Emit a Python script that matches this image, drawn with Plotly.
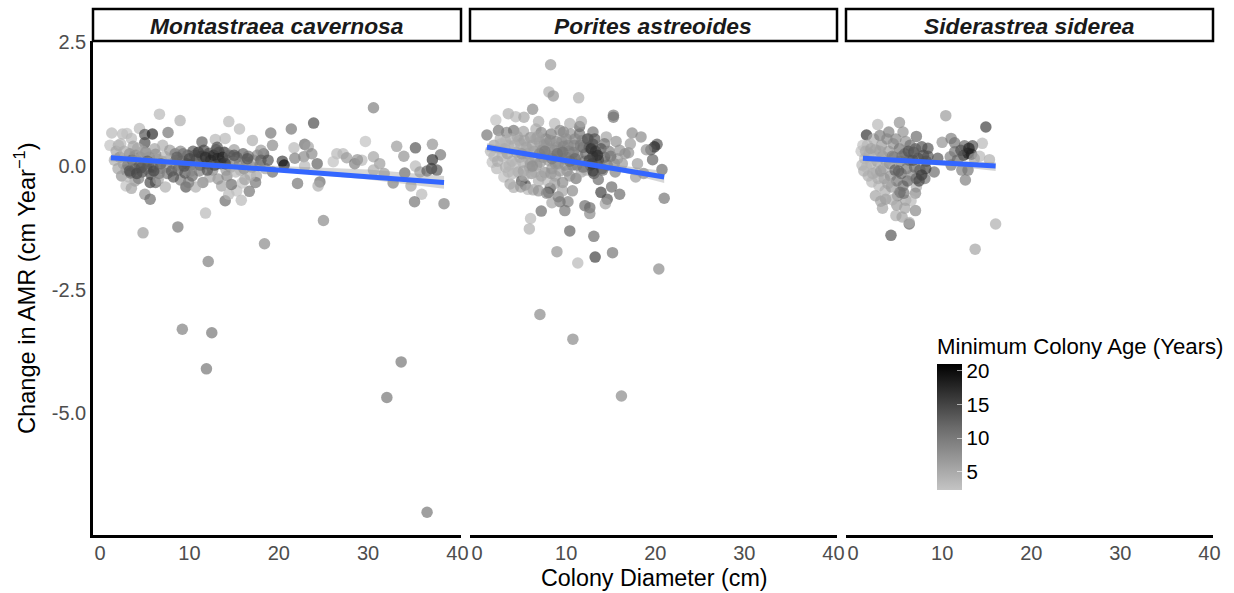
import plotly.graph_objects as go

W, H = 1234, 593

species = ["Montastraea cavernosa", "Porites astreoides", "Siderastrea siderea"]
x_ticks = [0, 10, 20, 30, 40]
y_ticks = [2.5, 0.0, -2.5, -5.0]
age_ticks = [5, 10, 15, 20]

# (colony diameter cm, change in AMR, minimum colony age)
mc_points = [
 (4.8,-1.35,7),(8.7,-1.23,11),(11.8,-0.95,4),(12.1,-1.93,10),(9.2,-3.3,10),(12.5,-3.37,11),(11.9,-4.1,11),
 (18.4,-1.57,9),(25,-1.1,9),(30.6,1.18,10),(33.7,-3.96,11),(32.1,-4.68,11),(36.6,-7.0,11),(38.5,-0.76,10),
 (6.64,1.05,4),(8.95,0.92,5),(14.4,0.9,4),(15.6,0.75,4),(19.1,0.67,11),(21.4,0.75,11),(23.9,0.87,15),
 (1.3,0.67,4),(4.4,0.76,4),(2.5,0.65,4),(3.0,0.66,3),(5.0,0.64,14),(5.85,0.65,18),(7.6,0.68,11),(5.0,0.47,15),
 (1.1,0.42,3),(2.05,0.42,5),(3.5,0.56,4),(11.4,0.49,13),(12.9,0.54,4),(14.0,0.56,4),(17.05,0.52,5),(19.3,0.42,9),
 (21.7,0.37,4),(22.9,0.44,12),(23.3,0.39,6),(33.2,0.4,7),(35.3,0.37,14),(37.2,0.44,8),(38.1,0.23,11),(34,0.2,8),
 (29.7,0.5,3),(30.6,0.19,6),(26.5,0.25,4),(27.2,0.25,4),(26.1,0.09,3),(27.6,0.17,7),(28.5,0.05,10),(29.3,0.12,4),
 (28.8,0.13,8),(31.3,0.05,7),(37.2,0.13,17),(37.1,-0.05,16),(35.3,0.0,4),(34.1,-0.14,12),(35.8,-0.12,7),
 (37.7,-0.08,14),(36.6,-0.1,13),(32.8,-0.34,10),(34.8,-0.4,6),(36,-0.57,4),(35.2,-0.72,11),(30.6,-0.08,5),
 (31.8,-0.15,7),(22.1,-0.35,11),(24.6,-0.32,12),(24.4,-0.4,5),(24.3,0.05,13),(20.4,0.1,16),(20.6,0.02,20),
 (21.8,0.16,10),(22.8,0.19,9),(23.7,0.25,9),(22.9,0.0,4),(19.3,-0.12,12),(18.3,0.25,14),(18,0.32,7),(17.5,-0.2,6),
 (17.4,-0.33,11),(16.7,-0.51,11),(15.8,-0.69,4),(14,-0.7,12),(14.4,-0.57,4),(15.3,-0.5,3),(14.7,-0.37,12),
 (15.9,-0.34,3),(13.6,-0.4,6),(13.2,-0.26,8),(11.5,-0.33,10),(9.6,-0.42,14),(10.7,-0.42,5),(9,-0.28,10),
 (9.9,-0.33,10),(7.3,-0.42,5),(6.2,-0.33,13),(5.6,-0.33,15),(3.9,-0.3,7),(2.9,-0.4,3),(3.5,-0.45,6),(5,-0.57,8),
 (5.6,-0.67,12),
 (1.8,0.3,6),(2.2,0.18,8),(2.6,0.05,7),(2.9,-0.08,9),(3.3,0.25,12),(3.6,0.12,14),(3.9,-0.06,13),(4.2,0.36,5),
 (4.5,0.18,9),(4.7,-0.12,15),(5.1,0.28,11),(5.4,0.05,8),(5.7,-0.17,15),(6.1,0.35,6),(6.4,0.14,5),(6.7,-0.05,8),
 (7.0,0.42,5),(7.2,0.2,4),(7.5,-0.15,11),(7.8,0.32,7),(8.1,0.06,8),(8.4,0.25,10),(8.7,-0.08,12),(9.0,0.3,9),
 (9.2,0.1,12),(9.5,-0.14,14),(9.8,0.22,12),(10.1,0.02,14),(10.4,0.3,14),(10.8,0.14,15),(11.1,-0.1,10),(11.4,0.2,16),
 (11.9,0.05,12),(12.2,0.26,14),(12.6,-0.08,9),(13.0,0.33,12),(13.2,0.16,16),(13.5,0.05,17),(13.9,0.28,17),
 (14.2,0.12,15),(14.6,-0.02,8),(15.0,0.33,7),(15.3,0.18,14),(15.7,-0.08,5),(16.0,0.25,13),(16.4,0.08,9),
 (16.8,-0.18,4),(17.2,0.12,6),(17.6,0.22,9),(18,0.12,13),(18.5,-0.05,6),(2.4,-0.2,8),(3.2,-0.22,4),(4.3,-0.25,10),
 (6.5,-0.27,6),(8.2,-0.22,14),(10.3,-0.2,12),(12.3,-0.22,6),(14.2,-0.2,9),(16.2,-0.27,6),
 (1.6,0.12,5),(2.0,-0.05,6),(2.3,0.45,4),(2.7,0.3,5),(3.1,0.02,10),(3.4,-0.14,12),(3.7,0.4,6),(4.0,0.22,8),(4.4,0.0,13),
 (4.8,0.3,6),(5.2,-0.05,12),(5.5,0.18,7),(5.9,-0.02,14),(6.2,0.24,8),(6.6,-0.15,10),(6.9,0.1,6),(7.4,-0.02,9),(7.7,0.12,5),
 (8.0,-0.1,13),(8.5,0.12,9),(8.9,0.02,10),(9.3,0.25,11),(9.7,0.05,13),(10.2,-0.1,9),(10.6,0.22,13),(11.2,0.02,12),
 (11.6,0.32,15),(12.0,-0.08,14),(12.4,0.12,17),(12.8,0.02,15),(13.3,0.28,15),(13.7,0.18,18),(14.1,-0.08,7),(14.5,0.22,12),
 (14.9,0.08,6),(15.2,-0.12,4),(15.6,0.05,10),(16.1,-0.05,8),(16.6,0.2,11),(17,-0.02,7),(17.9,0.02,10),(18.8,0.12,14),
 (3.3,-0.1,14),(4.1,-0.15,15),(4.6,-0.03,14),(5.3,0.1,13),(6.0,-0.1,15),(6.8,0.05,12),(8.6,0.18,13),(9.4,0.0,14),(10.0,0.15,15),
 (11.0,0.28,16),(11.8,0.18,17),(12.7,0.22,18),(13.1,0.38,14),(14.0,0.05,16),(15.0,0.22,14),(16.5,0.15,14),
]

pa_points = [
 (7.05,-3.0,9),(10.75,-3.5,9),(16.2,-4.65,9),
 (8.25,2.05,7),(8.06,1.5,5),(8.55,1.42,8),(11.4,1.38,5),(6.23,1.15,9),(3.5,1.06,5),(4.33,1.0,4),(5.26,0.99,6),
 (2.1,0.93,3),(15.3,1.03,10),(15.3,0.99,11),(1.1,0.63,11),(17.4,0.67,9),(18.4,0.59,9),(20.2,0.44,14),(19.9,0.39,18),
 (19.5,0.33,14),(19,0.33,8),(19.7,0.13,13),(20.75,-0.07,12),(21,-0.65,11),(17.8,-0.22,7),(17,0.27,8),(17.2,0.45,7),
 (16.6,0.25,8),(15.6,0.5,8),(14.5,0.59,6),(15.75,0.15,6),(13,0.69,11),(13,0.44,15),(13,0.2,20),(14.3,0.45,11),
 (14.3,0.18,14),(11.5,0.8,13),(11.7,0.9,5),(10.4,0.86,5),(8.7,0.86,4),(6.9,0.9,5),(9.7,0.69,9),
 (13.9,-0.53,16),(15.1,-0.42,12),(16,-0.57,12),(14.6,-0.67,14),(14.4,-0.76,6),(12.1,-0.8,12),(12.65,-0.84,12),
 (12.65,-0.96,9),(10.2,-0.72,10),(9.3,-0.72,11),(8.4,-0.74,6),(9.85,-0.9,11),(7.2,-0.91,12),(6,-1.06,4),(5.86,-1.27,5),
 (10.4,-1.31,13),(13.1,-1.42,12),(8.96,-1.73,8),(11.3,-1.96,4),(13.25,-1.84,16),(15.2,-1.75,11),(20.4,-2.08,9),
 (8,-0.53,13),(8.2,-0.45,14),(9.1,-0.62,10),(8.7,-0.35,7),
 (1.5,0.3,4),(1.7,0.08,3),(1.9,0.42,6),(2.2,-0.05,4),(2.4,0.72,11),(2.6,0.55,5),(2.8,0.2,5),(3.0,-0.22,3),(3.2,-0.02,5),
 (3.3,0.68,9),(3.5,0.42,4),(3.7,-0.36,6),(3.9,0.1,5),(4.1,-0.43,5),(4.1,0.72,11),(4.4,0.28,6),(4.6,-0.12,7),
 (4.7,0.52,5),(5.0,-0.3,14),(5.1,0.08,5),(5.2,0.7,6),(5.4,-0.38,14),(5.5,0.38,7),(5.7,-0.47,4),(5.8,0.14,5),
 (6.0,0.58,8),(6.1,-0.15,8),(6.3,-0.48,6),(6.4,0.3,7),(6.6,0.75,5),(6.7,0.02,7),(6.9,-0.3,5),(7.0,0.48,7),
 (7.2,0.68,9),(7.4,0.18,9),(7.6,-0.13,8),(7.7,0.55,8),(7.9,-0.3,4),(8.1,0.35,8),(8.3,0.65,10),(8.4,-0.05,8),
 (8.6,0.2,9),(8.8,-0.2,6),(8.9,0.5,9),(9.1,0.05,8),(9.3,0.72,9),(9.4,0.32,7),(9.6,-0.33,9),(9.8,0.15,9),
 (10,0.55,8),(10.1,-0.1,7),(10.3,0.3,9),(10.5,0.65,8),(10.7,0.02,10),(10.9,0.42,10),(11.1,-0.25,11),(11.3,0.22,8),
 (11.5,0.65,11),(11.7,-0.12,6),(11.9,0.38,13),(12.1,0.1,11),(12.3,-0.08,5),(12.5,0.55,10),(12.7,0.02,13),
 (13.1,-0.15,14),(13.4,0.05,13),(13.6,-0.27,12),(14,-0.05,15),(14.6,0.02,11),(15,0.2,12),(15.5,-0.12,10),
 (2.5,0.35,4),(3.4,0.25,6),(4.3,0.05,4),(4.9,0.45,5),(5.6,0.25,7),(6.5,0.18,6),(7.3,0.32,8),(8,0.12,7),(9,0.38,7),
 (10,0.18,9),(3.2,0.5,4),(4.5,0.6,6),(5.9,-0.03,6),(6.8,0.6,6),(7.8,0.45,7),(9.5,0.5,8),(10.6,0.12,8),(11.8,0.52,9),
 (1.9,0.2,4),(2.3,0.1,5),(2.7,0.45,4),(3.1,0.35,5),(3.6,0.02,4),(3.8,0.55,5),(4.0,-0.15,4),(4.2,0.42,5),(4.8,0.18,5),(5.2,-0.1,6),
 (5.3,0.52,6),(5.7,0.35,5),(6.0,0.05,6),(6.2,0.42,6),(6.5,-0.12,5),(6.6,0.55,6),(7.1,0.08,7),(7.2,-0.2,6),(7.5,0.42,7),(7.9,0.22,7),
 (8.2,0.52,8),(8.3,-0.15,7),(8.7,0.32,8),(8.8,0.05,8),(9.2,0.2,8),(9.3,-0.1,7),(9.7,0.4,9),(9.9,0.02,8),(10.2,0.42,9),(10.4,-0.2,8),
 (10.8,0.28,10),(11.0,0.55,9),(11.2,0.02,10),(11.6,0.42,10),(11.9,-0.02,11),(12.2,0.25,12),(12.6,0.38,13),(12.9,0.05,16),(13.3,0.3,16),
 (13.6,0.12,15),(13.9,0.35,14),(14.1,-0.08,12),(14.8,0.3,10),(15.4,0.05,9),(16,0.32,8),(16.3,0.05,7),(18,0.05,7),(18.7,-0.15,8),
 (4.9,-0.42,7),(6.9,-0.5,8),(7.8,-0.55,9),(9.6,-0.5,6),(10.7,-0.5,9),(5.3,-0.2,5),(3.5,-0.12,4),
 (7.0,0.25,9),(7.6,0.3,10),(8.4,0.15,10),(9.0,0.25,11),(9.6,0.28,11),(10.4,0.1,11),(11.0,0.15,12),(12.4,0.55,14),(12.8,0.35,17),
 (13.2,0.55,14),(13.5,0.22,17),(12.6,0.12,15),(13.0,-0.1,16),(6.2,0.0,8),(5.0,0.25,7),
]

ss_points = [
 (10.4,1.02,7),(14.9,0.79,16),(5.2,0.88,8),(2.76,0.84,4),(1.5,0.63,17),(4,0.69,10),(5.6,0.69,8),(7.1,0.6,12),
 (14.5,0.46,4),(10,0.48,8),(11,0.56,10),(11.4,0.47,11),(12.5,0.41,12),(13.4,0.41,14),(12.9,0.26,18),(12.4,0.22,18),
 (13.3,0.24,18),(15.3,0.13,5),(14.2,0.2,4),(11.4,0.29,11),(10.9,0.19,10),(11,0.02,11),(12.2,-0.08,10),(12.9,-0.08,11),
 (12.6,-0.28,10),(9.1,-0.12,12),(8.05,-0.25,11),(8.15,-0.05,16),(9.5,0.16,14),(8.4,0.36,14),(7.7,0.39,14),(7.1,-0.42,5),
 (7,-0.55,9),(5.9,-0.69,6),(5.26,-0.53,14),(7,-0.9,9),(4.9,-0.79,7),(3.65,-0.67,8),(3.1,-0.71,6),(4.8,-1.0,5),
 (5.5,-1.03,6),(6.3,-1.17,13),(6.3,-1.14,5),(4.25,-1.4,14),(16,-1.17,5),(13.7,-1.68,6),
 (1.1,0.42,3),(0.9,0.3,3),(1.3,0.15,4),(1.0,0.02,4),(1.2,-0.1,5),(1.6,0.42,4),(1.8,0.25,5),(2.0,0.05,5),(1.7,-0.2,5),
 (2.1,-0.32,4),(2.3,0.55,5),(2.5,0.33,6),(2.7,0.1,6),(2.6,-0.12,5),(2.9,-0.4,4),(2.5,-0.6,6),(3.0,0.62,10),(3.2,0.42,7),
 (3.3,0.2,8),(3.4,-0.05,5),(3.5,-0.25,7),(3.6,-0.5,5),(3.8,0.55,9),(4.0,0.3,7),(4.1,0.05,9),(4.2,-0.2,8),(4.3,-0.42,7),
 (4.5,0.45,8),(4.6,0.18,9),(4.7,-0.08,13),(4.9,-0.3,11),(5.0,-0.6,9),(5.2,0.35,11),(5.3,0.1,10),(5.4,-0.15,12),
 (5.6,-0.4,11),(5.8,0.25,12),(5.9,0.5,8),(6.0,-0.05,11),(6.1,-0.3,13),(6.3,0.12,12),(6.4,0.42,11),(6.6,-0.18,9),
 (6.8,0.28,14),(6.9,-0.02,12),(7.1,-0.25,12),(7.3,0.16,14),(7.5,-0.08,13),(7.7,-0.18,16),(7.9,0.22,15),(8.2,0.1,14),
 (6.5,-0.7,4),(5.8,-0.85,6),(4.4,-0.68,5),(3.3,-0.85,6),
 (1.4,0.3,5),(1.5,-0.02,4),(2.0,0.35,6),(2.2,-0.15,5),(2.4,0.15,4),(2.8,-0.25,5),(3.0,0.3,6),(3.1,-0.1,7),(3.7,0.1,6),(3.9,-0.35,6),
 (4.4,0.2,10),(4.8,0.55,9),(5.1,-0.1,13),(5.5,0.2,11),(5.7,-0.55,11),(6.2,0.3,14),(6.7,0.12,14),(7.0,0.35,13),(7.4,-0.3,15),(8.4,0.2,14),
 (11.7,0.12,12),(12.1,0.32,14),(13.0,0.36,18),(13.6,0.15,6),
]

# fitted trends and their confidence bands
mc_fit_x, mc_fit_y = [1.2, 38.5], [0.17, -0.33]
mc_band_x = [1.2, 10, 20, 30, 38.5]
mc_band_hi = [0.24, 0.1, 0.0, -0.07, -0.2]
mc_band_lo = [0.1, 0.0, -0.11, -0.27, -0.46]

pa_fit_x, pa_fit_y = [1.1, 21], [0.38, -0.22]
pa_band_x = [1.1, 6, 11, 16, 21]
pa_band_hi = [0.46, 0.27, 0.13, 0.02, -0.1]
pa_band_lo = [0.3, 0.18, 0.04, -0.11, -0.34]

ss_fit_x, ss_fit_y = [1.1, 16], [0.16, 0.0]
ss_band_x = [1.1, 6, 11, 16]
ss_band_hi = [0.22, 0.14, 0.11, 0.08]
ss_band_lo = [0.1, 0.05, 0.0, -0.1]

all_points = [mc_points, pa_points, ss_points]
fits = [(mc_fit_x, mc_fit_y), (pa_fit_x, pa_fit_y), (ss_fit_x, ss_fit_y)]
bands = [(mc_band_x, mc_band_hi, mc_band_lo), (pa_band_x, pa_band_hi, pa_band_lo), (ss_band_x, ss_band_hi, ss_band_lo)]

FONT = "Liberation Sans, Arial, sans-serif"
panels_px = [(93, 461), (470, 837), (846, 1213)]
x_range = [-0.8, 40.4]
y_range = [-7.46, 2.53]
plot_top, plot_bot = 41, 535

def px(v): return v / W
def py(v): return 1 - v / H

fig = go.Figure()
for i, pts in enumerate(all_points):
    ax = "" if i == 0 else str(i + 1)
    xa, ya = f"x{ax}", f"y{ax}"
    fig.add_trace(go.Scatter(
        x=[p[0] for p in pts], y=[p[1] for p in pts], mode="markers", xaxis=xa, yaxis=ya,
        showlegend=False, hoverinfo="skip",
        marker=dict(size=11.5, opacity=0.67, line=dict(width=0),
                    color=[p[2] for p in pts], coloraxis="coloraxis"),
    ))
    bx, hi, lo = bands[i]
    fig.add_trace(go.Scatter(
        x=bx + bx[::-1], y=hi + lo[::-1], mode="lines", fill="toself", xaxis=xa, yaxis=ya,
        line=dict(width=0), fillcolor="rgba(153,153,153,0.4)", showlegend=False, hoverinfo="skip",
    ))
    fig.add_trace(go.Scatter(
        x=fits[i][0], y=fits[i][1], mode="lines", xaxis=xa, yaxis=ya,
        line=dict(color="#3366FF", width=5), showlegend=False, hoverinfo="skip",
    ))

layout = dict(
    width=W, height=H, margin=dict(l=0, r=0, t=0, b=0, autoexpand=False), autosize=False,
    paper_bgcolor="white", plot_bgcolor="white", font=dict(family=FONT, color="black"),
    coloraxis=dict(
        cmin=2.3, cmax=21,
        colorscale=[[0, "#c4c4c4"], [0.5, "#6a6a6a"], [1, "#000000"]],
        colorbar=dict(
            x=px(937), xanchor="left", y=py(490), yanchor="bottom",
            len=156, lenmode="pixels", thickness=25, thicknessmode="pixels",
            outlinewidth=0, tickvals=age_ticks, ticks="inside", ticklen=5, tickcolor="rgba(255,255,255,0.6)",
            tickprefix="\u00a0\u00a0", tickfont=dict(size=20.5, family=FONT, color="black"), xpad=0, ypad=0,
            title=dict(text="Minimum Colony Age (Years)", side="top", font=dict(size=22.2, family=FONT, color="black")),
        ),
    ),
)
shapes, annotations = [], []
for i, (l, r) in enumerate(panels_px):
    ax = "" if i == 0 else str(i + 1)
    layout[f"xaxis{ax}"] = dict(
        domain=[px(l), px(r)], range=x_range, tickvals=x_ticks, ticks="", showgrid=False, zeroline=False,
        showline=True, linecolor="black", linewidth=2.5, anchor=f"y{ax}", ticklabelstandoff=-2,
        tickfont=dict(size=20, color="#4D4D4D", family=FONT),
    )
    layout[f"yaxis{ax}"] = dict(
        domain=[py(plot_bot), py(plot_top)], range=y_range, showgrid=False, zeroline=False, ticks="",
        anchor=f"x{ax}", showline=(i == 0), linecolor="black", linewidth=2.5,
        showticklabels=(i == 0), tickvals=y_ticks, ticktext=["2.5", "0.0", "-2.5", "-5.0"],
        tickfont=dict(size=20, color="#4D4D4D", family=FONT),
    )
    shapes.append(dict(type="rect", xref="paper", yref="paper", x0=px(l), x1=px(r), y0=py(41), y1=py(9),
                       line=dict(color="black", width=2.5), fillcolor="white"))
    annotations.append(dict(text=f"<b><i>{species[i]}</i></b>", xref="paper", yref="paper",
                            x=px((l + r) / 2), y=py(25.5), showarrow=False, xanchor="center", yanchor="middle",
                            font=dict(size=22.8, color="#1a1a1a", family=FONT)))
annotations.append(dict(text="Colony Diameter (cm)", xref="paper", yref="paper", x=px(654), y=py(578),
                        showarrow=False, xanchor="center", yanchor="middle", font=dict(size=23.3, family=FONT)))
annotations.append(dict(text="Change in AMR (cm Year<sup>−1</sup>)", xref="paper", yref="paper", x=px(25), y=py(288),
                        showarrow=False, xanchor="center", yanchor="middle", textangle=-90, font=dict(size=23.6, family=FONT)))
fig.update_layout(**layout, shapes=shapes, annotations=annotations)
fig.write_html("out.html", config={"displayModeBar": False}, post_script="document.body.style.margin='0';")
